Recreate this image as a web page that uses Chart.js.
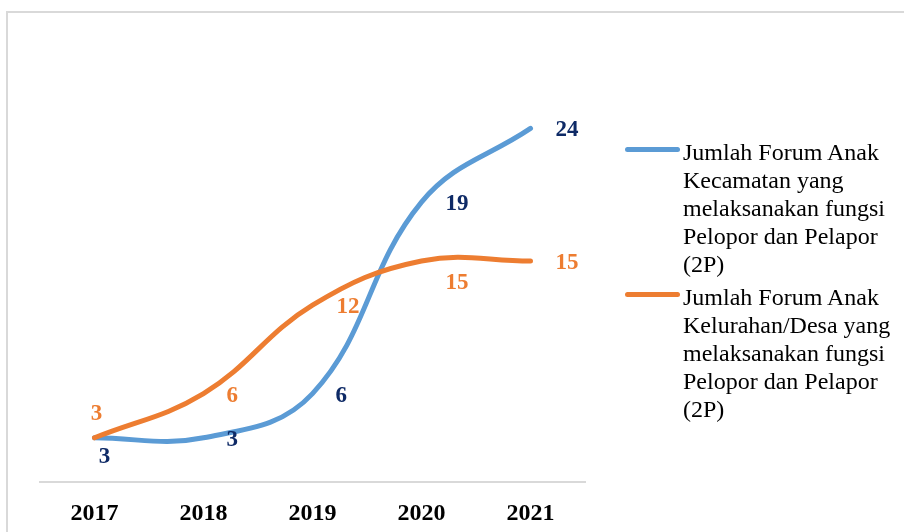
<!DOCTYPE html>
<html>
<head>
<meta charset="utf-8">
<script src="https://cdn.jsdelivr.net/npm/chart.js@4.4.1/dist/chart.umd.min.js"></script>
<style>
  html, body { margin: 0; padding: 0; background: #fff; overflow: hidden; }
  #wrap { position: relative; width: 904px; height: 532px; overflow: hidden; }
  #frame { position: absolute; left: 6px; top: 11px; width: 1000px; height: 600px;
           border: 2px solid #d9d9d9; box-sizing: border-box; }
  #FA-Chart { position: absolute; left: 0; top: 0; }
  #FA-legend { position: absolute; left: 625px; top: 138px; width: 279px;
               font-family: "Liberation Serif", "Times New Roman", serif; font-size: 24px;
               line-height: 28px; color: #000; }
  .lg-item { position: relative; padding-left: 58px; margin-bottom: 5px; }
  .lg-line { position: absolute; left: 0; top: 9px; width: 55px; height: 5px; border-radius: 3px; }
</style>
</head>
<body>
<div id="wrap">
  <div id="frame"></div>
  <canvas id="FA-Chart" width="904" height="532"></canvas>
  <div id="FA-legend"></div>
</div>
<script>
// data
var years = ["2017", "2018", "2019", "2020", "2021"];
var kecamatanCount = [3, 3, 6, 19, 24];
var kelurahanCount = [3, 6, 12, 15, 15];
var kecamatanName = ["Jumlah Forum Anak", "Kecamatan yang", "melaksanakan fungsi", "Pelopor dan Pelapor", "(2P)"];
var kelurahanName = ["Jumlah Forum Anak", "Kelurahan/Desa yang", "melaksanakan fungsi", "Pelopor dan Pelapor", "(2P)"];

var blue = "#5B9BD5";
var orange = "#ED7D31";

// small plugin: writes value labels next to each point
var pointLabels = {
	id: 'pointLabels',
	afterDatasetsDraw: function(chart) {
		var ctx = chart.ctx;
		chart.data.datasets.forEach(function(ds, i) {
			var meta = chart.getDatasetMeta(i);
			meta.data.forEach(function(pt, j) {
				var off = ds.labelOffsets[j];
				ctx.save();
				ctx.font = "bold 23px 'Liberation Serif', 'Times New Roman', serif";
				ctx.fillStyle = ds.labelColor;
				ctx.textAlign = off[2];
				ctx.textBaseline = 'middle';
				ctx.fillText(ds.data[j], pt.x + off[0], pt.y + off[1]);
				ctx.restore();
			});
		});
	}
};

var data = {
	labels: years,
	datasets: [
		{
			label: kecamatanName.join(" "),
			legendLines: kecamatanName,
			data: kecamatanCount,
			borderColor: blue,
			backgroundColor: blue,
			labelColor: "#0E2A66",
			labelOffsets: [[10, 19, 'center'], [23, 2, 'left'], [23, 2, 'left'], [24, 2, 'left'], [25, 2, 'left']],
			order: 1
		},
		{
			label: kelurahanName.join(" "),
			legendLines: kelurahanName,
			data: kelurahanCount,
			borderColor: orange,
			backgroundColor: orange,
			labelColor: orange,
			labelOffsets: [[2, -24, 'center'], [23, 2, 'left'], [24, 2, 'left'], [24, 22, 'left'], [25, 2, 'left']],
			order: 0
		}
	]
};

var config = {
	type: 'line',
	data: data,
	options: {
		responsive: false,
		animation: false,
		layout: { padding: { left: 40, right: 319, top: 40, bottom: 6 } },
		elements: {
			line: { tension: 0.4, borderWidth: 5, borderCapStyle: 'round', borderJoinStyle: 'round' },
			point: { radius: 0, hoverRadius: 0 }
		},
		plugins: {
			legend: { display: false },
			tooltip: { enabled: false }
		},
		scales: {
			x: {
				offset: true,
				grid: { display: false },
				border: { display: true, color: "#d9d9d9", width: 2 },
				ticks: {
					color: "#000",
					padding: 9,
					font: { family: "'Liberation Serif', 'Times New Roman', serif", size: 24, weight: 'bold' }
				},
				afterFit: function(scale) { scale.height = 44; }
			},
			y: {
				display: false,
				min: 0,
				max: 30
			}
		}
	},
	plugins: [pointLabels]
};

var myChart = new Chart(document.getElementById('FA-Chart'), config);

// legend built from the datasets
function buildLegend(chart) {
	var html = "";
	chart.data.datasets.forEach(function(ds) {
		html += '<div class="lg-item"><span class="lg-line" style="background:' + ds.borderColor + '"></span>' +
			ds.legendLines.join("<br>") + '</div>';
	});
	document.getElementById('FA-legend').innerHTML = html;
}
buildLegend(myChart);
</script>
</body>
</html>
